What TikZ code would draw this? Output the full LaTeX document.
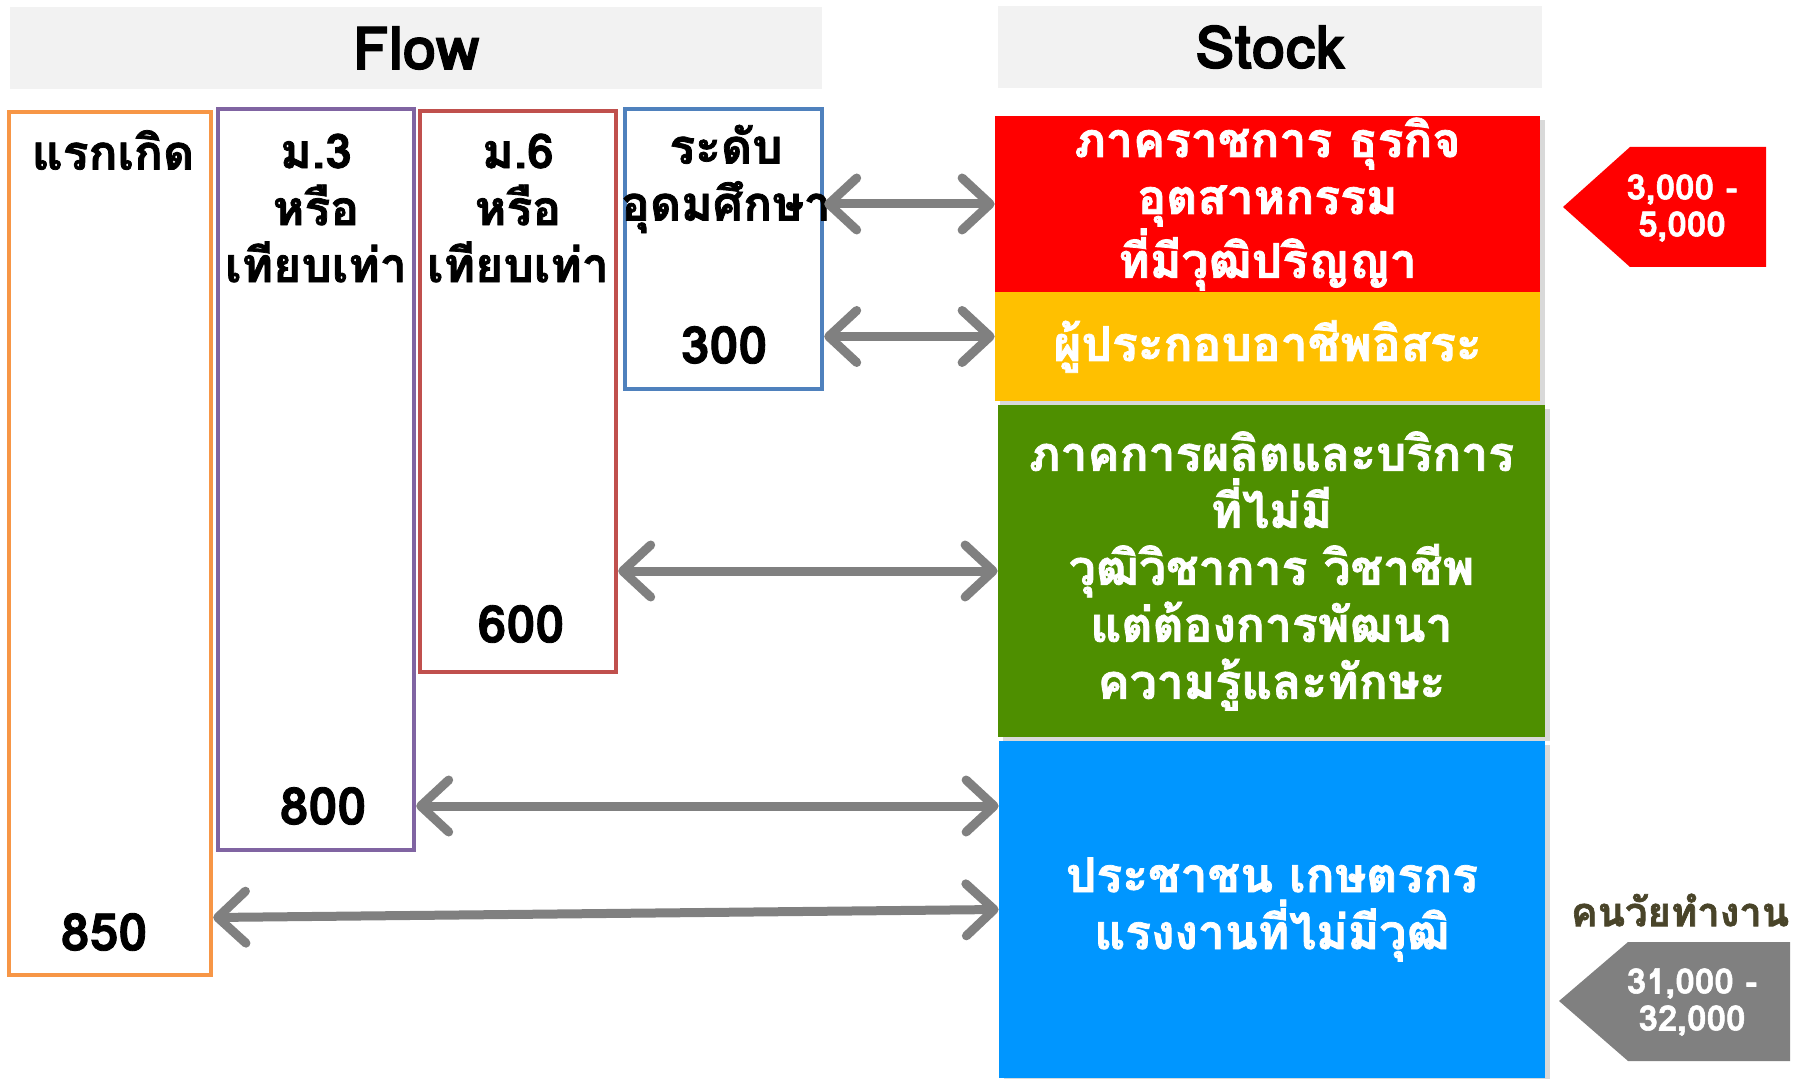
\documentclass[tikz,border=0pt]{standalone}
\usepackage{fontspec}
\setmainfont[Script=Thai,BoldFeatures={FakeBold=1.6}]{Loma}
\usetikzlibrary{arrows.meta,shadows,calc}
\definecolor{headgray}{HTML}{F2F2F2}
\definecolor{birthorange}{HTML}{F79646}
\definecolor{msthree}{HTML}{8064A2}
\definecolor{mssix}{HTML}{C0504D}
\definecolor{highblue}{HTML}{4F81BD}
\definecolor{govred}{HTML}{FF0000}
\definecolor{freeyellow}{HTML}{FFC000}
\definecolor{farmgreen}{HTML}{4E8F00}
\definecolor{peopleblue}{HTML}{0096FF}
\definecolor{linkgray}{HTML}{808080}
\definecolor{agebrown}{HTML}{494429}
\begin{document}
\begin{tikzpicture}[x=0.5pt,y=-0.5pt,
    every node/.style={font=\bfseries\fontsize{24}{28.5}\selectfont,inner sep=0pt},
    head/.style={fill=headgray,minimum height=41pt,font=\bfseries\fontsize{30}{34}\selectfont},
    flowbox/.style={draw,line width=2.2pt,minimum width=98pt},
    num/.style={font=\bfseries\fontsize{26}{30}\selectfont},
    stockbox/.style={text=white,align=center,minimum width=272.5pt,
      drop shadow={shadow xshift=2.5pt,shadow yshift=-2pt,opacity=.3}},
    tagnum/.style={text=white,align=center,font=\bfseries\fontsize{17.5}{18.5}\selectfont},
    link/.style={draw=linkgray,line width=4.5pt,
      {Straight Barb[length=14pt,width=26pt,round]}-{Straight Barb[length=14pt,width=26pt,round]}}]
  \useasboundingbox (0,0) rectangle (1798,1079);
  \node[head,minimum width=406pt] (flowhead) at (416,48) {Flow};
  \node[head,minimum width=272pt] (stockhead) at (1270,47) {Stock};

  \node[flowbox,draw=birthorange,minimum width=101pt,minimum height=431.5pt] (birth) at (110,543.5) {};
  \node[flowbox,draw=msthree,minimum height=370.5pt] (sec3) at (316,479.5) {};
  \node[flowbox,draw=mssix,minimum height=280.5pt] (sec6) at (518,391.5) {};
  \node[flowbox,draw=highblue,minimum width=98.5pt,minimum height=140pt] (higher) at (723.5,249) {};

  \node (birthlbl) at (113,150) {แรกเกิด};
  \node[align=center] (sec3lbl) at (316,208) {ม.3\\หรือ\\เทียบเท่า};
  \node[align=center] (sec6lbl) at (518,208) {ม.6\\หรือ\\เทียบเท่า};
  \node[align=center] (higherlbl) at (726,179) {ระดับ\\อุดมศึกษา};
  \node[num] (n850) at (104,932) {850};
  \node[num] (n800) at (323,806) {800};
  \node[num] (n600) at (521,624) {600};
  \node[num] (n300) at (724,345) {300};

  \node[stockbox,fill=govred,minimum height=88pt] (govt) at (1267.5,204)
    {ภาคราชการ ธุรกิจ\\อุตสาหกรรม\\ที่มีวุฒิปริญญา};
  \node[stockbox,fill=freeyellow,minimum height=54.5pt] (free) at (1267.5,346.5)
    {ผู้ประกอบอาชีพอิสระ};
  \node[stockbox,fill=farmgreen,minimum width=273.5pt,minimum height=166pt] (farm) at (1271.5,571)
    {ภาคการผลิตและบริการ\\ที่ไม่มี\\วุฒิวิชาการ วิชาชีพ\\แต่ต้องการพัฒนา\\ความรู้และทักษะ};
  \node[stockbox,fill=peopleblue,minimum width=273pt,minimum height=168.5pt] (people) at (1272,909.5)
    {ประชาชน เกษตรกร\\แรงงานที่ไม่มีวุฒิ};

  \fill[govred] (1563,207) -- (1630,147) -- (1766,147) -- (1766,267) -- (1630,267) -- cycle;
  \node[tagnum] (govnum) at (1682,208) {3,000 -\\5,000};
  \node[text=agebrown,font=\bfseries\fontsize{20}{22}\selectfont] (agelbl) at (1680,910) {คนวัยทำงาน};
  \fill[linkgray] (1559,1001) -- (1628,942) -- (1790,942) -- (1790,1061) -- (1628,1061) -- cycle;
  \node[tagnum] (worknum) at (1692,1002) {31,000 -\\32,000};

  \begin{scope}[link]
    \draw (higher.east |- govt.west) -- (govt.west);
    \draw ($(higher.east |- free.west)+(0,-10)$) -- ($(free.west)+(0,-10)$);
    \draw (sec6.east |- farm.west) -- (farm.west);
    \draw (sec3.east |- n800) -- (n800 -| people.west);
    \draw ($(birth.east |- people.west)+(0,8)$) -- (people.west);
  \end{scope}
\end{tikzpicture}
\end{document}
